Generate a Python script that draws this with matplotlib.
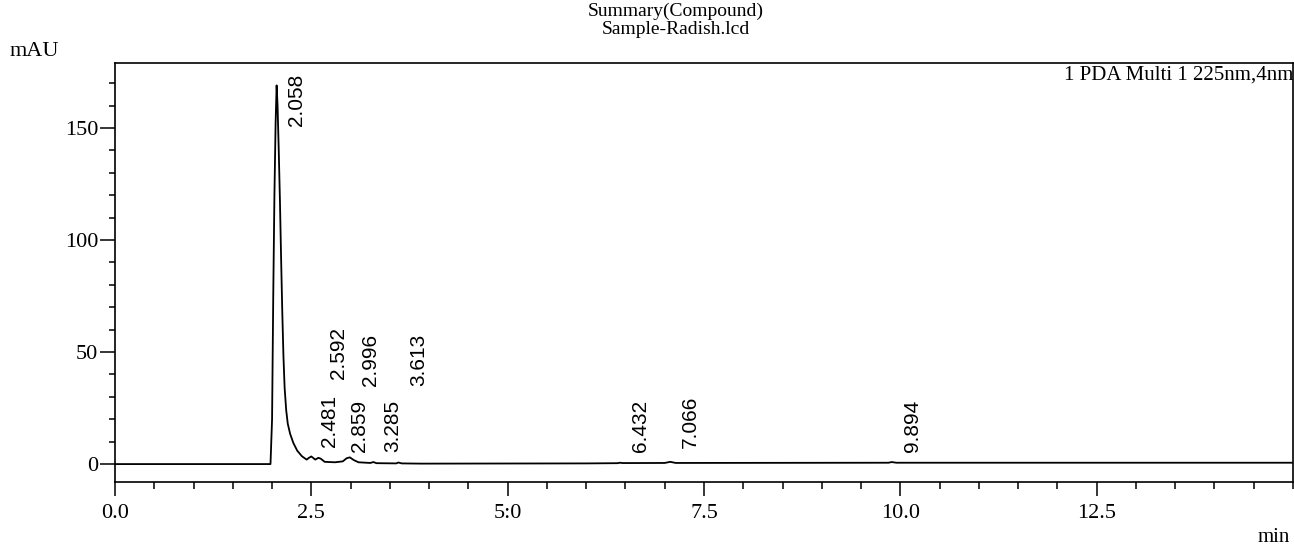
"""
Chromatogram: Summary(Compound) - Sample-Radish.lcd
PDA Multi 1, 225nm
"""

import matplotlib
matplotlib.use("Agg")
import matplotlib.pyplot as plt
from matplotlib.ticker import FixedLocator, FixedFormatter, MultipleLocator

# trace (time in min, signal in mAU)
trace_time = [0.0, 1.98, 2.0, 2.015, 2.03, 2.045, 2.058, 2.07, 2.085, 2.10,
              2.115, 2.13, 2.145, 2.16, 2.18, 2.20, 2.23, 2.27, 2.32, 2.38,
              2.44, 2.47, 2.50, 2.55, 2.59, 2.62, 2.67, 2.80, 2.90, 2.95,
              2.99, 3.04, 3.10, 3.25, 3.29, 3.33, 3.58, 3.61, 3.65, 3.90,
              6.00, 6.40, 6.43, 6.47, 7.00, 7.07, 7.14, 9.85, 9.89, 9.95, 15.0]
trace_mau = [0.0, 0.0, 20, 75, 120, 152, 169, 160, 140, 118,
             92, 68, 48, 34, 24, 18, 13.5, 9.5, 6.0, 3.5,
             2.0, 2.8, 3.4, 2.0, 2.8, 2.4, 1.0, 0.8, 1.2, 2.6,
             3.0, 1.8, 0.8, 0.5, 0.9, 0.4, 0.3, 0.7, 0.3, 0.2,
             0.3, 0.4, 0.6, 0.45, 0.5, 1.0, 0.5, 0.6, 0.9, 0.6, 0.6]

# peak retention times and the height where each label starts
peak_rt = [2.058, 2.481, 2.592, 2.859, 2.996, 3.285, 3.613, 6.432, 7.066, 9.894]
label_level = [151, 7.5, 38, 5.5, 35, 5.5, 35, 5.5, 7, 5.5]

x_ticks = [0.0, 2.5, 5.0, 7.5, 10.0, 12.5]
x_tick_labels = ["0.0", "2.5", "5:0", "7.5", "10.0", "12.5"]
y_ticks = [0, 50, 100, 150]

SERIF = ["Liberation Serif", "DejaVu Serif"]
SANS = ["Liberation Sans", "DejaVu Sans"]

plt.rcParams["font.family"] = SERIF

fig = plt.figure(figsize=(12.94, 5.46), dpi=100)
ax = fig.add_axes([115 / 1294, 1 - 482 / 546, 1178 / 1294, 419 / 546])

ax.plot(trace_time, trace_mau, color="black", lw=1.3)

for rt, lvl in zip(peak_rt, label_level):
    ax.annotate(f"{rt:.3f}", xy=(rt, lvl), xytext=(14.5, 0),
                textcoords="offset points", rotation=90,
                ha="center", va="bottom", fontsize=15, family=SANS)

ax.set_xlim(0, 15.0)
ax.set_ylim(-8, 179)

ax.xaxis.set_major_locator(FixedLocator(x_ticks))
ax.xaxis.set_major_formatter(FixedFormatter(x_tick_labels))
ax.xaxis.set_minor_locator(MultipleLocator(0.5))
ax.yaxis.set_major_locator(FixedLocator(y_ticks))
ax.yaxis.set_minor_locator(MultipleLocator(10))

ax.tick_params(axis="both", which="both", direction="out", width=1.1,
               labelsize=16, top=False, right=False)
ax.tick_params(axis="x", which="major", length=10, pad=6)
ax.tick_params(axis="x", which="minor", length=5)
ax.tick_params(axis="y", which="major", length=11, pad=1)
ax.tick_params(axis="y", which="minor", length=4)

for sp in ax.spines.values():
    sp.set_linewidth(1.2)

ax.text(1.0, 0.995, "1 PDA Multi 1 225nm,4nm", transform=ax.transAxes,
        ha="right", va="top", fontsize=15)

fig.text(676 / 1294, 1 - 11 / 546, "Summary(Compound)", ha="center",
         va="center", fontsize=14)
fig.text(676 / 1294, 1 - 30 / 546, "Sample-Radish.lcd", ha="center",
         va="center", fontsize=14)
fig.text(10 / 1294, 1 - 52 / 546, "mAU", ha="left", va="center", fontsize=16)
fig.text(1290 / 1294, 1 - 537 / 546, "min", ha="right", va="center",
         fontsize=15)

plt.savefig("out.png", dpi=100)
